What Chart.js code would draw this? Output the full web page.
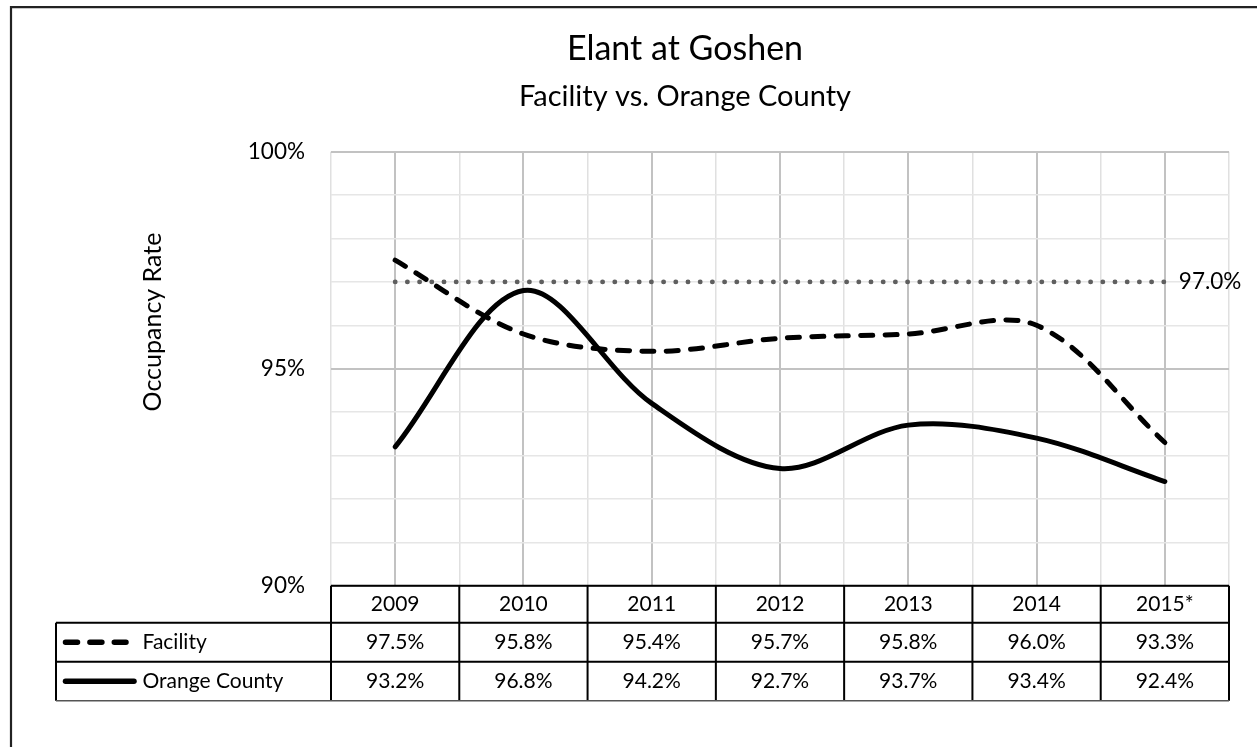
<!DOCTYPE html>
<html>
<head>
<meta charset="utf-8">
<script src="https://cdn.jsdelivr.net/npm/chart.js@4/dist/chart.umd.min.js"></script>
<style>
  html, body { margin: 0; padding: 0; background: #fff; }
  canvas { display: block; }
</style>
</head>
<body>
<canvas id="c" width="1257" height="747"></canvas>
<script>
// ---- data ----
const categories = ['2009', '2010', '2011', '2012', '2013', '2014', '2015*'];
const facility = [97.5, 95.8, 95.4, 95.7, 95.8, 96.0, 93.3];
const orangeCounty = [93.2, 96.8, 94.2, 92.7, 93.7, 93.4, 92.4];
const target = [97.0, 97.0, 97.0, 97.0, 97.0, 97.0, 97.0];
const targetLabel = '97.0%';
const seriesNames = ['Facility', 'Orange County'];
const yMajorTicks = [90, 95, 100];
const titleText = 'Elant at Goshen';
const subtitleText = 'Facility vs. Orange County';
const yTitleText = 'Occupancy Rate';

// ---- styles ----
const FONT = 'Lato, "Open Sans", "DejaVu Sans", sans-serif';
Chart.defaults.font.family = FONT;
Chart.defaults.color = '#000';

const extras = {
  id: 'extras',
  beforeDraw(chart) {
    const ctx = chart.ctx;
    ctx.save();
    ctx.fillStyle = '#fff';
    ctx.fillRect(0, 0, chart.width, chart.height);
    ctx.strokeStyle = '#222';
    ctx.lineWidth = 2.2;
    ctx.beginPath();
    ctx.moveTo(chart.width, 7.2);
    ctx.lineTo(11, 7.2);
    ctx.lineTo(11, chart.height);
    ctx.stroke();
    ctx.restore();
  },
  afterDatasetsDraw(chart) {
    const ctx = chart.ctx;
    const meta = chart.getDatasetMeta(2);
    const last = meta.data[meta.data.length - 1];
    ctx.save();
    ctx.font = '22.5px ' + FONT;
    ctx.fillStyle = '#000';
    ctx.textAlign = 'left';
    ctx.textBaseline = 'middle';
    ctx.fillText(targetLabel, last.x + 14, last.y);
    ctx.restore();
  },
  afterDraw(chart) {
    const ctx = chart.ctx;
    const ca = chart.chartArea;
    const xs = chart.scales.x;
    const n = categories.length;
    const centers = categories.map((c, i) => xs.getPixelForValue(i));
    const bw = centers[1] - centers[0];
    const colLeft = centers[0] - bw / 2;
    const colRight = centers[n - 1] + bw / 2;
    const y0 = ca.bottom;
    const rowY = [y0, y0 + 37, y0 + 76, y0 + 115];
    const legendLeft = 56;

    ctx.save();
    // axis title
    ctx.save();
    ctx.translate(153, 322);
    ctx.rotate(-Math.PI / 2);
    ctx.font = '25px ' + FONT;
    ctx.fillStyle = '#000';
    ctx.textAlign = 'center';
    ctx.textBaseline = 'middle';
    ctx.fillText(yTitleText, 0, 0);
    ctx.restore();

    // table grid
    ctx.strokeStyle = '#000';
    ctx.lineWidth = 2;
    ctx.beginPath();
    ctx.moveTo(colLeft, rowY[0]); ctx.lineTo(colRight, rowY[0]);
    ctx.moveTo(legendLeft, rowY[1]); ctx.lineTo(colRight, rowY[1]);
    ctx.moveTo(legendLeft, rowY[2]); ctx.lineTo(colRight, rowY[2]);
    ctx.moveTo(legendLeft, rowY[1]); ctx.lineTo(legendLeft, rowY[3]);
    for (let i = 0; i <= n; i++) {
      const x = colLeft + i * bw;
      ctx.moveTo(x, rowY[0]); ctx.lineTo(x, rowY[3]);
    }
    ctx.stroke();
    ctx.strokeStyle = '#555';
    ctx.lineWidth = 1.5;
    ctx.beginPath();
    ctx.moveTo(legendLeft, rowY[3]); ctx.lineTo(colRight, rowY[3]);
    ctx.stroke();

    // text
    ctx.font = '21px ' + FONT;
    ctx.fillStyle = '#000';
    ctx.textBaseline = 'middle';
    ctx.textAlign = 'center';
    const series = [facility, orangeCounty];
    categories.forEach((c, i) => {
      ctx.fillText(c, centers[i], (rowY[0] + rowY[1]) / 2 + 0.5);
      series.forEach((s, r) => {
        ctx.fillText(s[i].toFixed(1) + '%', centers[i], (rowY[r + 1] + rowY[r + 2]) / 2 + 0.5);
      });
    });
    ctx.textAlign = 'left';
    seriesNames.forEach((name, r) => {
      ctx.fillText(name, 142.5, (rowY[r + 1] + rowY[r + 2]) / 2 + 0.5);
    });

    // legend keys
    ctx.strokeStyle = '#000';
    ctx.lineCap = 'round';
    ctx.lineWidth = 5.5;
    const yF = (rowY[1] + rowY[2]) / 2;
    ctx.setLineDash([12, 12.4]);
    ctx.beginPath();
    ctx.moveTo(65.5, yF); ctx.lineTo(126, yF);
    ctx.stroke();
    ctx.setLineDash([]);
    const yO = (rowY[2] + rowY[3]) / 2;
    ctx.beginPath();
    ctx.moveTo(65.5, yO); ctx.lineTo(134, yO);
    ctx.stroke();
    ctx.restore();
  }
};

new Chart(document.getElementById('c'), {
  type: 'line',
  data: {
    labels: categories,
    datasets: [
      {
        label: seriesNames[0],
        data: facility,
        borderColor: '#000',
        borderWidth: 5,
        borderDash: [12, 12.4],
        borderCapStyle: 'round',
        pointRadius: 0,
        tension: 0.33,
        fill: false
      },
      {
        label: seriesNames[1],
        data: orangeCounty,
        borderColor: '#000',
        borderWidth: 5,
        borderCapStyle: 'round',
        pointRadius: 0,
        tension: 0.33,
        fill: false
      },
      {
        label: 'Target',
        data: target,
        borderColor: '#5f5f5f',
        borderWidth: 4.8,
        borderDash: [0.1, 12.1],
        borderCapStyle: 'round',
        pointRadius: 0,
        tension: 0,
        fill: false
      }
    ]
  },
  options: {
    responsive: false,
    devicePixelRatio: 1,
    animation: false,
    layout: { padding: { left: 141, right: 28, top: 0, bottom: 161.3 } },
    plugins: {
      legend: { display: false },
      tooltip: { enabled: false },
      title: {
        display: true,
        text: titleText,
        color: '#000',
        font: { size: 34, weight: 'normal', lineHeight: 1.2 },
        padding: { top: 29.1, bottom: 0 }
      },
      subtitle: {
        display: true,
        text: subtitleText,
        color: '#000',
        font: { size: 29, weight: 'normal', lineHeight: 1.2 },
        padding: { top: 9.7, bottom: 37.3 }
      }
    },
    scales: {
      x: {
        type: 'category',
        position: 'bottom',
        offset: true,
        ticks: { display: false },
        grid: { color: '#e0e0e0', lineWidth: 1.5, drawTicks: false, offset: true },
        border: { display: false },
        afterFit: (s) => { s.height = 0; }
      },
      x2: {
        type: 'category',
        position: 'bottom',
        offset: true,
        ticks: { display: false },
        grid: { color: '#c2c2c2', lineWidth: 2, drawTicks: false, offset: false },
        border: { display: false },
        afterFit: (s) => { s.height = 0; }
      },
      y: {
        min: 90,
        max: 100,
        ticks: {
          stepSize: 1,
          padding: 26,
          font: { size: 22.5 },
          color: '#000',
          callback: (v) => yMajorTicks.includes(v) ? v + '%' : ''
        },
        grid: {
          drawTicks: false,
          color: (c) => yMajorTicks.includes(c.tick.value) ? '#c2c2c2' : '#e6e6e6',
          lineWidth: (c) => yMajorTicks.includes(c.tick.value) ? 2 : 1.5
        },
        border: { display: false },
        afterFit: (s) => { s.width = 190; }
      }
    }
  },
  plugins: [extras]
});
</script>
</body>
</html>
